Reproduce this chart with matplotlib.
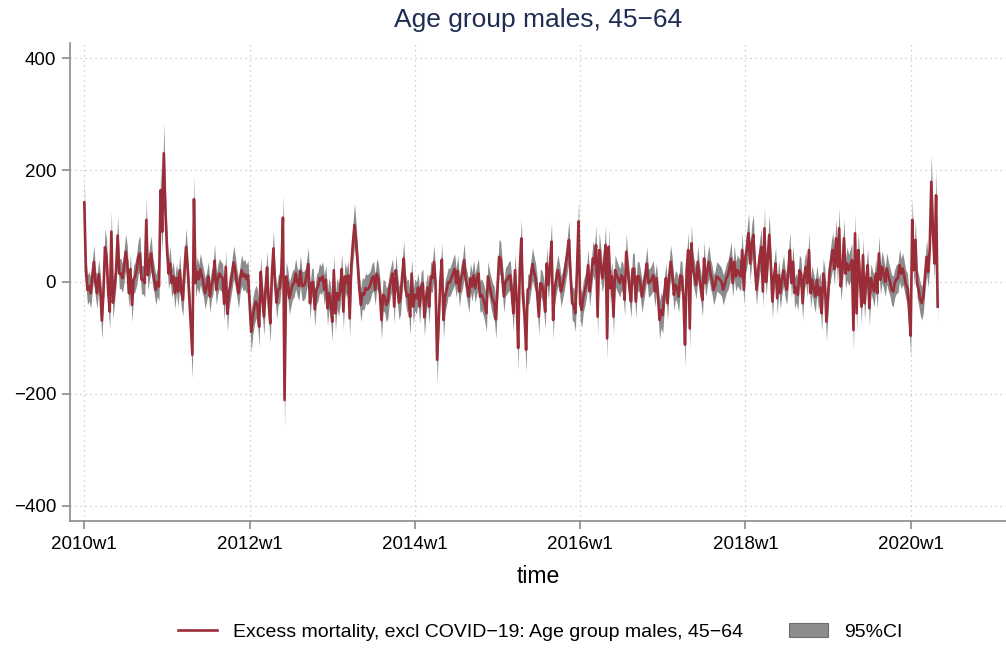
import numpy as np
import matplotlib
matplotlib.use("Agg")
import matplotlib.pyplot as plt
from matplotlib.patches import Patch
from matplotlib.lines import Line2D

plt.rcParams['font.family'] = ['Liberation Sans', 'DejaVu Sans']
plt.rcParams['axes.unicode_minus'] = True

# weekly excess deaths, one list per year (week 1 .. 52)
y2010 = [142, 20, -14, -8, -20, 10, 36, -2, -20, 14, -10, -69, -20, 62, 45, -17, -53, 90, -37, -10,
         21, 83, 15, 15, 7, 27, 54, 36, -20, 23, -41, 4, 10, 23, 45, 51, 4, 4, -2, 111,
         12, 33, 51, 20, 4, -14, 0, -8, 164, 90, 230, 129]
y2011 = [60, 15, 33, -2, 10, -20, 7, -17, 21, -17, -32, 20, 63, 27, -26, -80, -130, 148, -2, 18,
         5, 23, 10, -2, -20, -8, 10, -26, -5, 4, 38, -14, 5, 15, 10, 7, -39, 27, -57, -20,
         -5, 15, 35, 20, -2, -20, 4, 21, 10, 14, 5, 12]
y2012 = [-38, -89, -62, -45, -35, -44, -80, 18, -30, -62, -14, 26, -38, -74, 10, 60, -2, -37, -14, -11,
         20, 115, -211, 10, -2, -29, -17, -5, -2, 15, 0, -7, 20, -7, -7, -2, 15, 32, -38, -2,
         0, -49, -14, -8, 7, 3, 10, -14, 4, -47, -20, -38]
y2013 = [-71, 21, -56, -20, -32, -14, 23, -53, 10, -2, 12, -65, 30, 69, 102, 72, 33, -10, -41, -20,
         -23, -11, -14, -11, -5, 7, 10, -14, 15, 7, -20, -68, -23, -26, -41, -35, -10, 4, 15, -44,
         21, -10, -37, -29, 10, 42, -10, -26, -23, -62, 15, -44]
y2014 = [-23, -29, -10, -44, -8, -2, -63, -29, -10, -44, 10, 7, 36, -2, -139, -68, 0, 40, -68, -26,
         -14, 0, -1, 7, 15, 23, -2, 20, -17, 5, 15, 39, 4, -10, -26, 7, -8, 12, -11, 5,
         15, -26, -23, -30, -41, -56, 10, -5, -20, -32, -38, -67]
y2015 = [-10, 45, 42, 10, -26, 0, 4, 10, 12, -20, -56, 21, -30, -118, 20, 78, -26, -60, -121, -14,
         -11, 10, 32, 18, 7, -20, -62, -2, -5, -20, -53, 33, -5, 30, 72, -68, -11, 5, 21, 7,
         -17, -5, 10, 33, 50, 75, 10, -38, -41, -56, 20, 108]
y2016 = [-38, -50, -26, -15, -2, 30, -17, 10, 42, 33, 66, -62, 57, 33, 7, 30, 66, -101, 63, -11,
         10, -62, 21, 12, 5, -2, 12, 7, -32, 54, 21, -10, -35, 23, 24, -35, 10, 10, -5, -26,
         -8, 10, 33, -2, 0, 5, 12, -17, 7, -26, -68, -50]
y2017 = [-59, -20, 7, -38, 10, 36, 15, -23, -5, -11, -26, 12, 10, -26, -112, 20, 57, -83, 69, 24,
         10, -5, 36, 7, -10, -32, 42, -2, 20, 36, 15, 4, -14, -5, 10, 7, 4, 0, -14, -5,
         7, 12, 25, 42, -2, 36, 10, 21, 15, 10, 57, -14]
y2018 = [45, 60, 87, 33, 69, 84, 27, -14, 20, 45, 63, -17, 96, 0, 40, 84, 30, -35, 10, 33,
         -29, 12, -20, 5, 21, -2, -14, 20, 57, -2, 36, -20, -10, -23, 21, 15, -38, 10, 27, -2,
         57, -20, 4, -14, -26, 4, -23, -10, -56, 15, -2, -71]
y2019 = [-26, 21, 40, 57, 23, 78, 27, 96, -8, 20, 78, 15, 33, 21, 30, 39, -86, 87, -56, 57,
         10, -44, 48, -38, 5, 30, -47, 7, -5, -17, 15, -20, 51, 4, 27, 15, 0, 24, 10, 0,
         -14, -17, -2, 5, 7, 30, 15, 24, 10, -5, -11, -50]
y2020 = [-96, 111, 21, 75, -2, -14, -30, -38, -26, 10, 45, 18, 60, 179, 90, 33, 155, -44]

# 95% CI half width as read: about 25 deaths, widening at the spikes
ci_base = 25
ci_slope = 0.13

first_week = 2600          # Stata %tw value of 2010w1
tick_years = [2010, 2012, 2014, 2016, 2018, 2020]
tick_labels = [f"{y}w1" for y in tick_years]
y_ticks = [-400, -200, 0, 200, 400]

excess = np.array(y2010 + y2011 + y2012 + y2013 + y2014 + y2015 + y2016 + y2017 + y2018 + y2019 + y2020,
                  dtype=float)
weeks = first_week + np.arange(len(excess))
half = ci_base + ci_slope * np.abs(excess)
lower = excess - half
upper = excess + half

red = "#9b2d39"
grey = "#8c8c8c"

fig = plt.figure(figsize=(10.06, 6.48), dpi=100)
ax = fig.add_axes([0.0696, 0.196, 0.9304, 0.7377])

ax.fill_between(weeks, lower, upper, color=grey, linewidth=0, zorder=2)
ax.plot(weeks, excess, color=red, lw=1.9, zorder=3)

tick_pos = [first_week + 52 * (y - 2010) for y in tick_years]
ax.set_xticks(tick_pos)
ax.set_xticklabels(tick_labels)
ax.set_yticks(y_ticks)
ax.set_yticklabels([str(v).replace("-", "\u2212") for v in y_ticks])
ax.set_xlim(first_week - 9, first_week + 580)
ax.set_ylim(-427, 427)

ax.grid(True, linestyle=(0, (1, 3)), color="#c4c4c4", lw=0.9)
ax.set_axisbelow(True)
for s in ["top", "right"]:
    ax.spines[s].set_visible(False)
for s in ["left", "bottom"]:
    ax.spines[s].set_color("#8a8a8a")
    ax.spines[s].set_linewidth(1.2)
ax.tick_params(axis="both", colors="#8a8a8a", length=6, width=1.2, labelsize=13.5,
               labelcolor="black", direction="out")
ax.tick_params(axis="x", pad=5)
ax.tick_params(axis="y", pad=4)

fig.text(0.535, 0.969, "Age group males, 45\u221264", ha="center", va="center",
         fontsize=19, color="#1f2d52")
fig.text(0.535, 0.111, "time", ha="center", va="center", fontsize=16.5)

handles = [Line2D([0], [0], color=red, lw=1.9),
           Patch(facecolor=grey, edgecolor="#6e6e6e", lw=0.8)]
labels = ["Excess mortality, excl COVID\u221219: Age group males, 45\u221264", "95%CI"]
fig.legend(handles, labels, loc="center", bbox_to_anchor=(0.537, 0.025), ncol=2, frameon=False,
           fontsize=14, handlelength=2.0, handletextpad=0.8, columnspacing=2.4)

fig.savefig("out.png", dpi=100)
